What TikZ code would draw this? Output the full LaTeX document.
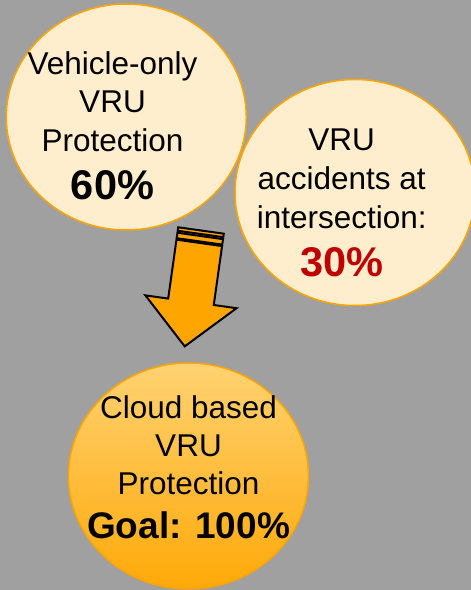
\documentclass[tikz,border=0pt]{standalone}
\usepackage{fontspec}
\setmainfont{Liberation Sans}
\usetikzlibrary{shapes.geometric}
\definecolor{bg}{HTML}{A0A0A0}
\definecolor{cream}{HTML}{FFEECE}
\definecolor{orng}{HTML}{FFA500}
\definecolor{gradtop}{HTML}{FFD272}
\definecolor{gradbot}{HTML}{FFA908}
\definecolor{darkred}{HTML}{C00000}
\begin{document}
\begin{tikzpicture}[x=1pt,y=1pt,
  bubble/.style={ellipse, draw=orng, line width=1.5pt, minimum width=240pt, minimum height=226pt, inner sep=0pt},
  txt/.style={anchor=base, font=\fontsize{31.5}{38}\selectfont, inner sep=0pt},
  big/.style={anchor=base, font=\fontsize{41.5}{48}\selectfont\bfseries, inner sep=0pt},
  goal/.style={anchor=base, font=\fontsize{37}{44}\selectfont\bfseries, inner sep=0pt},
  arrowpart/.style={fill=orng, draw=black, line width=2pt, line join=miter}]
\fill[bg] (0,0) rectangle (471,590);
\useasboundingbox (0,0) rectangle (471,590);
% bubbles
\node[bubble, fill=cream] (veh) at (126.3,473) {};
\node[bubble, fill=cream] (acc) at (355,397.5) {};
\node[bubble, top color=gradtop, bottom color=gradbot] (cloud) at (188.5,114) {};
% texts
\node[txt] (veh1) at (112.5,515) {Vehicle-only};
\node[txt] (veh2) at (112.5,477) {VRU};
\node[txt] (veh3) at (112.5,438) {Protection};
\node[big] (veh4) at (112.5,390) {60\%};
\node[txt] (acc1) at (341.7,439.3) {VRU};
\node[txt] (acc2) at (341.7,400) {accidents at};
\node[txt] (acc3) at (341.7,361.7) {intersection:};
\node[big, text=darkred] (acc4) at (341.7,313.3) {30\%};
\node[txt] (cl1) at (188.5,171.7) {Cloud based};
\node[txt] (cl2) at (188.5,133.3) {VRU};
\node[txt] (cl3) at (188.5,95) {Protection};
\node[goal] (cl4) at (188.5,51.7) {Goal: 100\%};
% striped arrow
\begin{scope}[shift={(201,359.5)}, rotate=-8]
\draw[arrowpart] (-23,0) rectangle (23,-3.5);
\draw[arrowpart] (-23,-5.5) rectangle (23,-11);
\draw[arrowpart] (-23,-12.5) -- (23,-12.5) -- (23,-72) -- (46,-72) -- (0,-117) -- (-46,-72) -- (-23,-72) -- cycle;
\end{scope}
\end{tikzpicture}
\end{document}
